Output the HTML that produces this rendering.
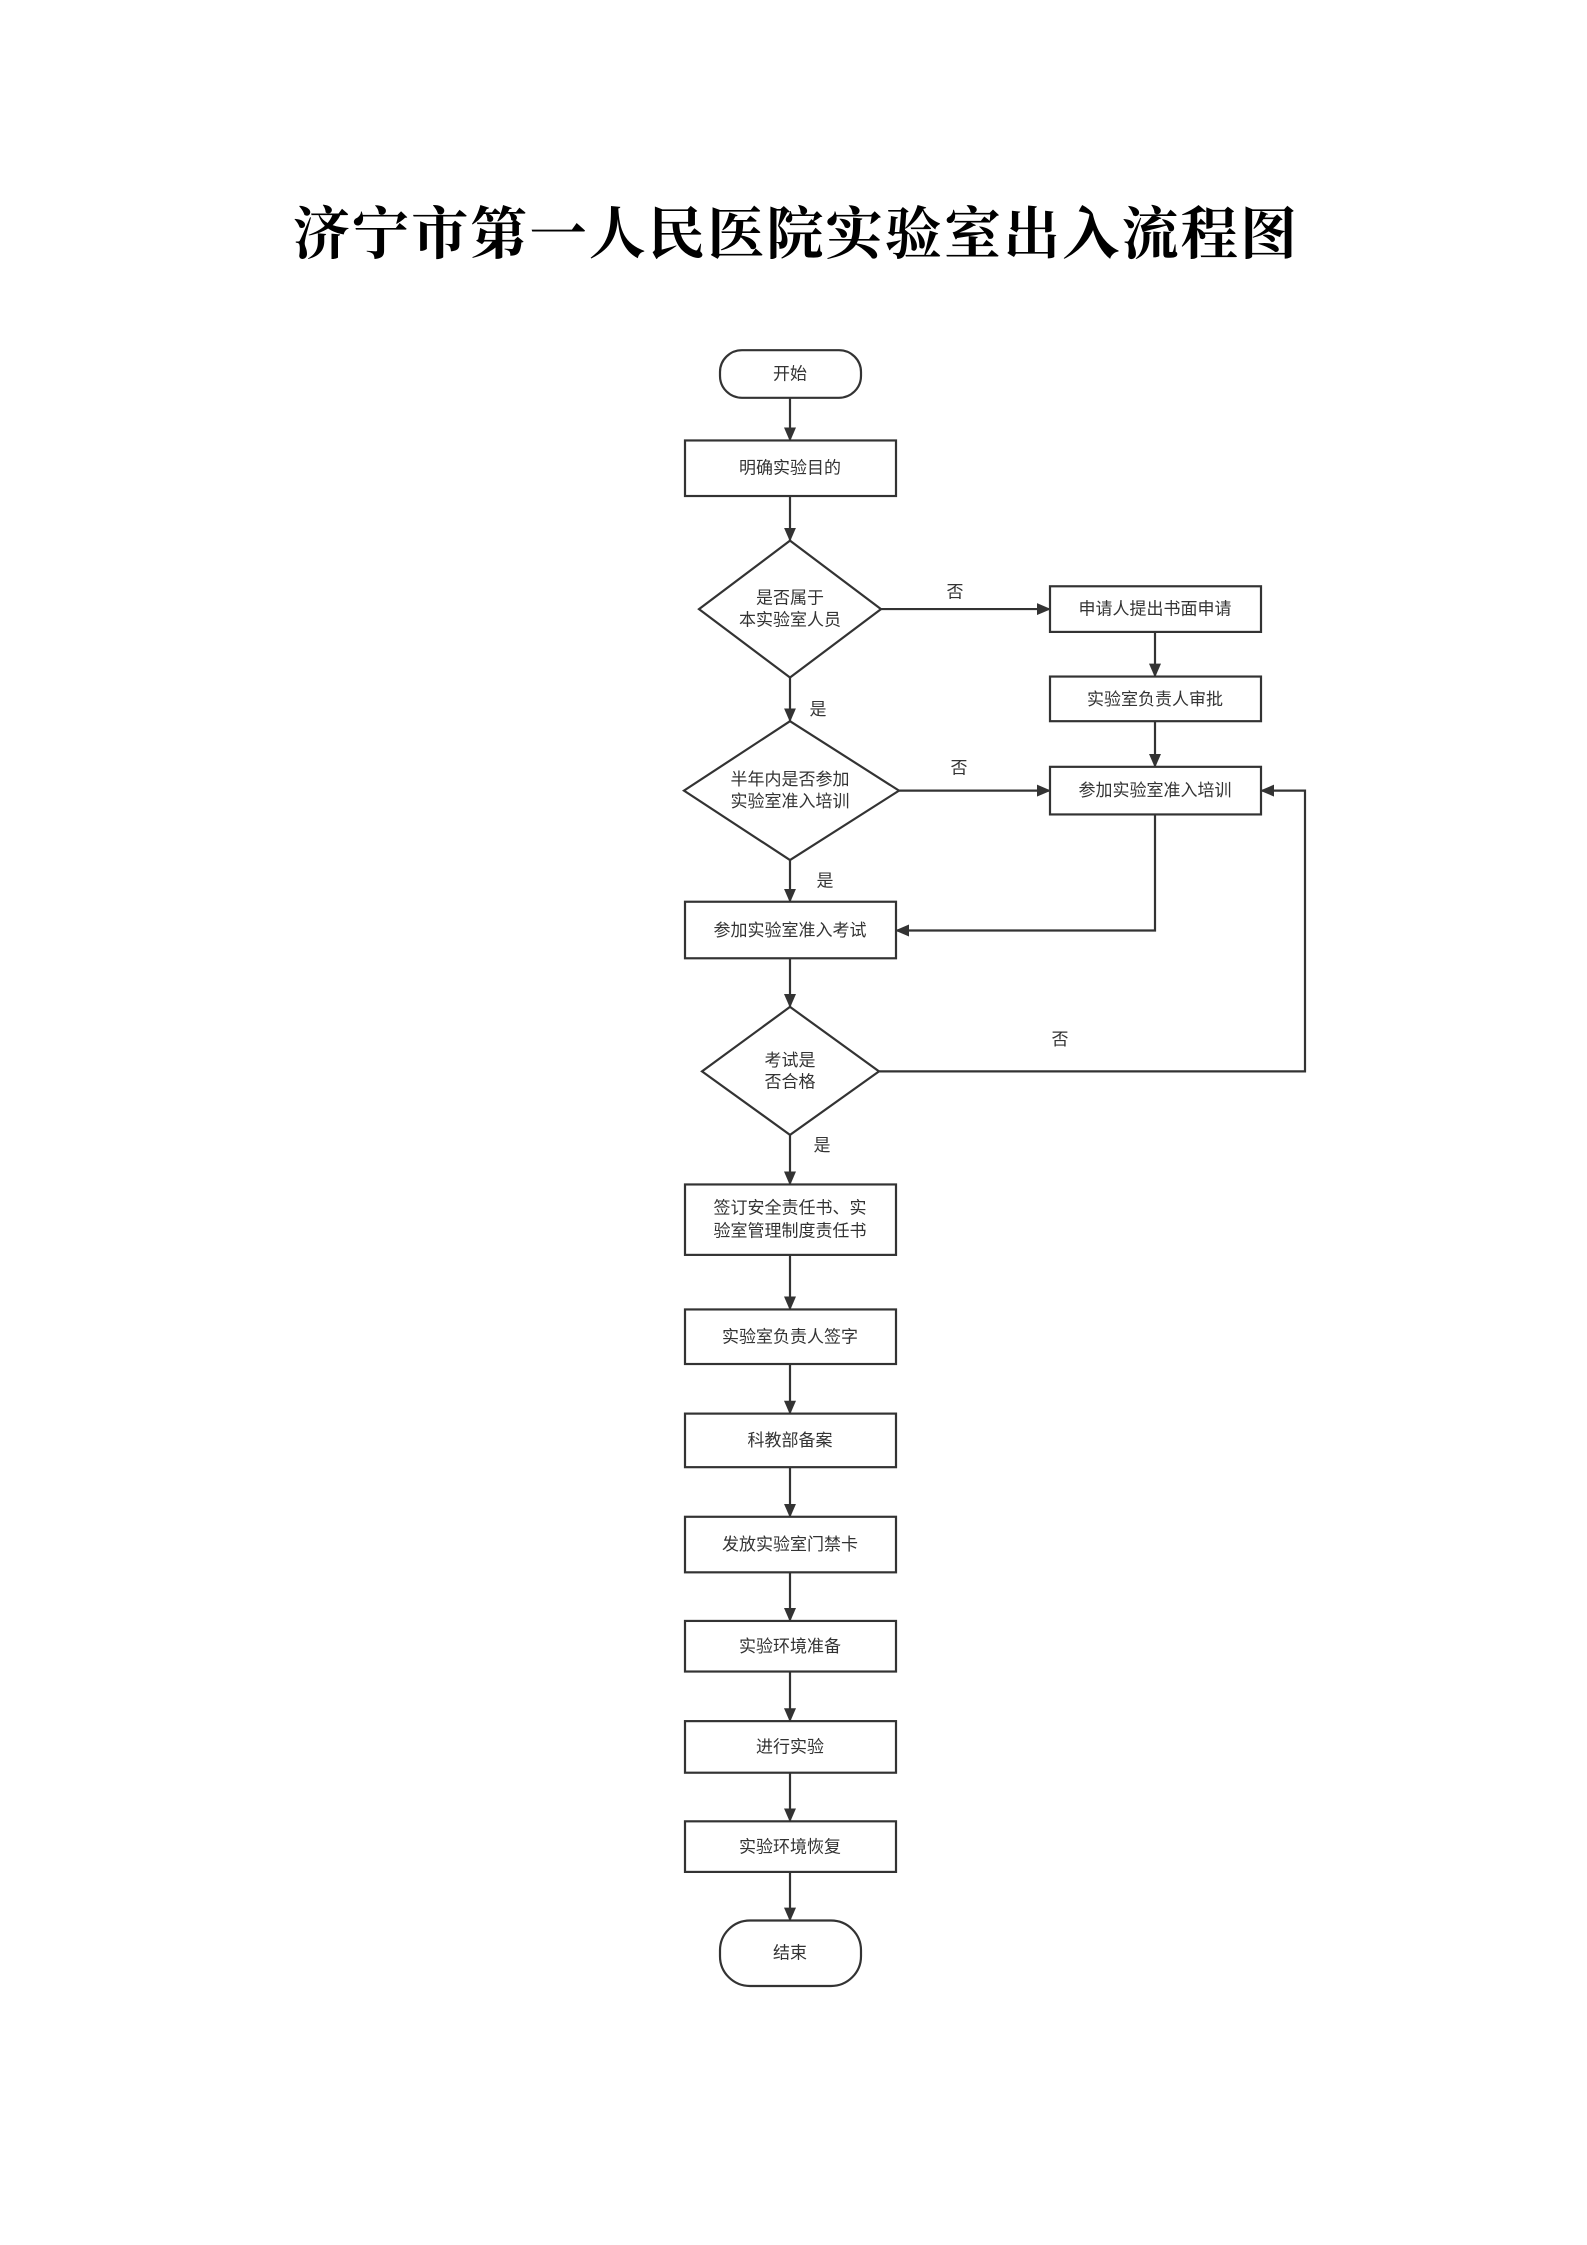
<!DOCTYPE html>
<html><head><meta charset="utf-8"><style>
html,body{margin:0;padding:0;background:#fff}
svg{display:block}
.t{font-family:"Liberation Sans","Noto Sans CJK SC",sans-serif;font-size:17px;fill:#333;text-anchor:middle;dominant-baseline:central}
.s{fill:#fff;stroke:#333;stroke-width:2.2}
.l{fill:none;stroke:#333;stroke-width:2.2}
</style></head><body>
<svg width="1587" height="2245" viewBox="0 0 1587 2245" xmlns="http://www.w3.org/2000/svg">
<defs><marker id="a" markerWidth="14" markerHeight="12" refX="13" refY="6" orient="auto" markerUnits="userSpaceOnUse"><path d="M0,0 L14,6 L0,12 z" fill="#333"/></marker></defs>
<text x="796" y="235" style="font-family:'Liberation Serif','Noto Serif CJK SC',serif;font-size:57px;letter-spacing:2.2px;font-weight:bold;fill:#000;text-anchor:middle;dominant-baseline:central">济宁市第一人民医院实验室出入流程图</text>

<g transform="translate(-6,1) scale(1,0.992)">
<path class="l" d="M796,400 V443" marker-end="url(#a)"/>
<path class="l" d="M796,499 V544" marker-end="url(#a)"/>
<path class="l" d="M796,682 V726" marker-end="url(#a)"/>
<path class="l" d="M796,866 V908" marker-end="url(#a)"/>
<path class="l" d="M796,965 V1014" marker-end="url(#a)"/>
<path class="l" d="M796,1143 V1193" marker-end="url(#a)"/>
<path class="l" d="M796,1264 V1319" marker-end="url(#a)"/>
<path class="l" d="M796,1374 V1424" marker-end="url(#a)"/>
<path class="l" d="M796,1478 V1528" marker-end="url(#a)"/>
<path class="l" d="M796,1584 V1633" marker-end="url(#a)"/>
<path class="l" d="M796,1684 V1734" marker-end="url(#a)"/>
<path class="l" d="M796,1786 V1835" marker-end="url(#a)"/>
<path class="l" d="M796,1886 V1935" marker-end="url(#a)"/>
<path class="l" d="M887,613 H1056" marker-end="url(#a)"/>
<path class="l" d="M1161,636 V681" marker-end="url(#a)"/>
<path class="l" d="M1161,726 V772" marker-end="url(#a)"/>
<path class="l" d="M905,796 H1056" marker-end="url(#a)"/>
<path class="l" d="M1161,820 V937 H902" marker-end="url(#a)"/>
<path class="l" d="M885,1079 H1311 V796 H1267" marker-end="url(#a)"/>

<rect class="s" x="726" y="352" width="141" height="48" rx="22"/>
<text class="t" x="796" y="376">开始</text>
<rect class="s" x="691" y="443" width="211" height="56"/>
<text class="t" x="796" y="471">明确实验目的</text>
<polygon class="s" points="796,544 887,613 796,682 705,613"/>
<text class="t" x="796" y="602">是否属于</text>
<text class="t" x="796" y="624">本实验室人员</text>
<polygon class="s" points="796,726 905,796 796,866 690,796"/>
<text class="t" x="796" y="785">半年内是否参加</text>
<text class="t" x="796" y="807">实验室准入培训</text>
<rect class="s" x="691" y="908" width="211" height="57"/>
<text class="t" x="796" y="937">参加实验室准入考试</text>
<polygon class="s" points="796,1014 885,1079 796,1143 708,1079"/>
<text class="t" x="796" y="1068">考试是</text>
<text class="t" x="796" y="1090">否合格</text>
<rect class="s" x="691" y="1193" width="211" height="71"/>
<text class="t" x="796" y="1217">签订安全责任书、实</text>
<text class="t" x="796" y="1240">验室管理制度责任书</text>
<rect class="s" x="691" y="1319" width="211" height="55"/>
<text class="t" x="796" y="1347">实验室负责人签字</text>
<rect class="s" x="691" y="1424" width="211" height="54"/>
<text class="t" x="796" y="1451">科教部备案</text>
<rect class="s" x="691" y="1528" width="211" height="56"/>
<text class="t" x="796" y="1556">发放实验室门禁卡</text>
<rect class="s" x="691" y="1633" width="211" height="51"/>
<text class="t" x="796" y="1659">实验环境准备</text>
<rect class="s" x="691" y="1734" width="211" height="52"/>
<text class="t" x="796" y="1760">进行实验</text>
<rect class="s" x="691" y="1835" width="211" height="51"/>
<text class="t" x="796" y="1861">实验环境恢复</text>
<rect class="s" x="726" y="1935" width="141" height="66" rx="30"/>
<text class="t" x="796" y="1968">结束</text>

<rect class="s" x="1056" y="590" width="211" height="46"/>
<text class="t" x="1161" y="613">申请人提出书面申请</text>
<rect class="s" x="1056" y="681" width="211" height="45"/>
<text class="t" x="1161" y="704">实验室负责人审批</text>
<rect class="s" x="1056" y="772" width="211" height="48"/>
<text class="t" x="1161" y="796">参加实验室准入培训</text>

<text class="t" x="961" y="596">否</text>
<text class="t" x="965" y="773">否</text>
<text class="t" x="1066" y="1047">否</text>
<text class="t" x="824" y="714">是</text>
<text class="t" x="831" y="887">是</text>
<text class="t" x="828" y="1154">是</text>
</g>
</svg>
</body></html>
